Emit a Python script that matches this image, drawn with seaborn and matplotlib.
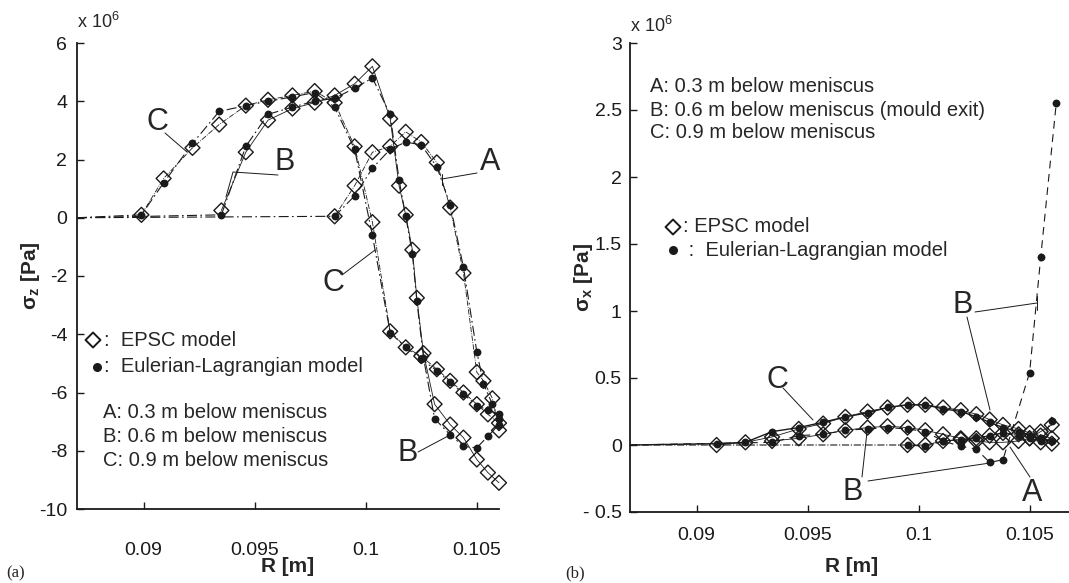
import numpy as np
import pandas as pd
import matplotlib
matplotlib.use("Agg")
import matplotlib.pyplot as plt
import seaborn as sns

# liquid pool: stress is zero from here up to the solidification front
R_START = 0.087

# (a) sigma_z, x 1e6 Pa
R_Z_C = [0.0899, 0.0909, 0.0922, 0.0934, 0.0946, 0.0956, 0.0967, 0.0977, 0.0986, 0.0995,
         0.1003, 0.1011, 0.1018, 0.1025, 0.1032, 0.1038, 0.1044, 0.1050, 0.1055, 0.1060]
SZ_C_EPSC = [0.1, 1.35, 2.4, 3.2, 3.85, 4.05, 4.2, 4.35, 3.95, 2.45,
             -0.15, -3.9, -4.45, -4.75, -5.2, -5.6, -6.0, -6.4, -6.75, -7.05]
SZ_C_EL = [0.1, 1.2, 2.55, 3.65, 3.85, 4.0, 4.15, 4.3, 3.8, 2.35,
           -0.6, -3.95, -4.45, -4.85, -5.25, -5.65, -6.05, -6.45, -6.6, -6.75]

R_Z_B = [0.0935, 0.0946, 0.0956, 0.0967, 0.0977, 0.0986, 0.0995, 0.1003, 0.1011, 0.1015,
         0.1018, 0.1021, 0.1023, 0.1026, 0.1031, 0.1038, 0.1044, 0.1050, 0.1055, 0.1060]
SZ_B_EPSC = [0.25, 2.25, 3.35, 3.75, 3.95, 4.2, 4.6, 5.2, 3.4, 1.1,
             0.1, -1.1, -2.75, -4.65, -6.4, -7.1, -7.55, -8.3, -8.75, -9.1]
SZ_B_EL = [0.1, 2.45, 3.55, 3.8, 4.0, 4.1, 4.45, 4.8, 3.55, 1.3,
           0.05, -1.25, -2.85, -4.8, -6.9, -7.45, -7.85, -7.9, -7.5, -7.1]

R_Z_A = [0.0986, 0.0995, 0.1003, 0.1011, 0.1018, 0.1025, 0.1032, 0.1038, 0.1044, 0.1050,
         0.1053, 0.1057, 0.1060]
SZ_A_EPSC = [0.05, 1.1, 2.25, 2.45, 2.95, 2.6, 1.9, 0.35, -1.9, -5.3, -5.6, -6.2, -7.3]
SZ_A_EL = [0.05, 0.75, 1.7, 2.35, 2.6, 2.5, 1.75, 0.45, -1.7, -4.6, -5.7, -6.4, -6.9]

# (b) sigma_x, x 1e6 Pa
R_X_C = [0.0909, 0.0922, 0.0934, 0.0946, 0.0957, 0.0967, 0.0977, 0.0986, 0.0995, 0.1003,
         0.1011, 0.1019, 0.1026, 0.1032, 0.1038, 0.1045, 0.1050, 0.1055, 0.1060]
SX_C_EPSC = [0.0, 0.02, 0.06, 0.12, 0.16, 0.21, 0.25, 0.28, 0.3, 0.3,
             0.28, 0.26, 0.23, 0.19, 0.15, 0.12, 0.09, 0.07, 0.05]
SX_C_EL = [0.01, 0.02, 0.1, 0.13, 0.17, 0.21, 0.24, 0.28, 0.3, 0.3,
           0.27, 0.25, 0.21, 0.17, 0.13, 0.1, 0.07, 0.05, 0.03]

R_X_B_EPSC = [0.0934, 0.0946, 0.0957, 0.0967, 0.0977, 0.0986, 0.0995, 0.1003, 0.1011,
              0.1019, 0.1026, 0.1032, 0.1038, 0.1045, 0.1050, 0.1055, 0.1060]
SX_B_EPSC = [0.03, 0.05, 0.08, 0.11, 0.13, 0.14, 0.13, 0.11, 0.08,
             0.05, 0.03, 0.02, 0.02, 0.03, 0.05, 0.1, 0.15]
R_X_B_EL = [0.0934, 0.0946, 0.0957, 0.0967, 0.0977, 0.0986, 0.0995, 0.1003, 0.1011,
            0.1019, 0.1026, 0.1032, 0.1038, 0.1050, 0.1055, 0.1062]
SX_B_EL = [0.02, 0.07, 0.08, 0.11, 0.12, 0.13, 0.12, 0.1, 0.03,
           -0.01, -0.03, -0.13, -0.11, 0.54, 1.4, 2.55]

R_X_A = [0.0995, 0.1003, 0.1011, 0.1019, 0.1026, 0.1032, 0.1038, 0.1045, 0.1050, 0.1055, 0.1060]
SX_A_EPSC = [0.0, 0.0, 0.03, 0.04, 0.05, 0.07, 0.09, 0.08, 0.05, 0.02, 0.01]
SX_A_EL = [0.0, -0.01, 0.03, 0.04, 0.05, 0.07, 0.09, 0.07, 0.05, 0.03, 0.18]

X_TICKS = [0.09, 0.095, 0.1, 0.105]
X_TICKLABELS = ["0.09", "0.095", "0.1", "0.105"]
YZ_TICKS = [-10, -8, -6, -4, -2, 0, 2, 4, 6]
YX_TICKS = [-0.5, 0, 0.5, 1, 1.5, 2, 2.5, 3]
YX_TICKLABELS = ["- 0.5", "0", "0.5", "1", "1.5", "2", "2.5", "3"]
DEPTHS = ["A: 0.3 m below meniscus", "B: 0.6 m below meniscus", "C: 0.9 m below meniscus"]
DEPTHS_B = ["A: 0.3 m below meniscus", "B: 0.6 m below meniscus (mould exit)",
            "C: 0.9 m below meniscus"]

sns.set_theme(style="ticks")
plt.rcParams["font.family"] = ["Liberation Sans", "DejaVu Sans"]
plt.rcParams["mathtext.fontset"] = "custom"
plt.rcParams["mathtext.rm"] = "Liberation Sans"
plt.rcParams["mathtext.it"] = "Liberation Sans:italic"
plt.rcParams["mathtext.bf"] = "Liberation Sans:bold"

fig = plt.figure(figsize=(10.69, 5.83), dpi=100)
ax1 = fig.add_axes([77 / 1069, 74 / 583, 422 / 1069, 466 / 583])
ax2 = fig.add_axes([630 / 1069, 71 / 583, 444 / 1069, 469 / 583])

DASHDOT = (0, (9, 3, 1.5, 3))


def draw_curve(ax, r_ep, ep, r_el, el, ls_el, ls_ep, lw_el=0.8):
    # EL line starts in the liquid (zero stress)
    sns.lineplot(x=[R_START] + r_el, y=[0] + el, ax=ax, color="k", lw=lw_el,
                 linestyle=ls_el, estimator=None, sort=False, clip_on=False)
    if ls_ep:
        sns.lineplot(x=r_ep, y=ep, ax=ax, color="k", lw=0.6, linestyle=ls_ep,
                     estimator=None, sort=False, clip_on=False)
    sns.scatterplot(x=r_ep, y=ep, ax=ax, marker="D", s=58, facecolor="none",
                    edgecolor="k", linewidth=1.0, clip_on=False, zorder=3)
    sns.scatterplot(x=r_el, y=el, ax=ax, marker="o", s=32, color="k",
                    edgecolor="k", linewidth=0, clip_on=False, zorder=4)


# panel (a)
draw_curve(ax1, R_Z_C, SZ_C_EPSC, R_Z_C, SZ_C_EL, DASHDOT, "-.")
draw_curve(ax1, R_Z_B, SZ_B_EPSC, R_Z_B, SZ_B_EL, DASHDOT, "-")
draw_curve(ax1, R_Z_A, SZ_A_EPSC, R_Z_A, SZ_A_EL, DASHDOT, "-.")

# panel (b)
draw_curve(ax2, R_X_C, SX_C_EPSC, R_X_C, SX_C_EL, "-", "-", lw_el=1.0)
draw_curve(ax2, R_X_B_EPSC, SX_B_EPSC, R_X_B_EL, SX_B_EL, (0, (7, 5)), "-")
draw_curve(ax2, R_X_A, SX_A_EPSC, R_X_A, SX_A_EL, "-.", "-")

for ax in (ax1, ax2):
    ax.set_xlim(0.087, 0.106 if ax is ax1 else 0.107)
    ax.set_xticks(X_TICKS)
    ax.set_xticklabels(X_TICKLABELS)
    ax.tick_params(direction="in", length=5, width=1, labelsize=14, colors="k")
    for s in ("left", "bottom"):
        ax.spines[s].set_linewidth(1.3)
        ax.spines[s].set_color("k")
    sns.despine(ax=ax)
    ax.set_xlabel("R [m]", fontsize=15, fontweight="bold")

ax1.set_ylim(-10, 6)
ax1.set_yticks(YZ_TICKS)
ax1.set_yticklabels([str(v) for v in YZ_TICKS])
ax1.tick_params(axis="x", pad=24)
ax1.tick_params(axis="y", pad=7)
ax1.set_ylabel(r"$\mathbf{\sigma_z}$ [Pa]", fontsize=15, fontweight="bold")
ax1.yaxis.set_label_coords(-0.083, 0.5)
ax1.xaxis.set_label_coords(0.5, -0.103)

ax2.set_ylim(-0.5, 3)
ax2.set_yticks(YX_TICKS)
ax2.set_yticklabels(YX_TICKLABELS)
ax2.tick_params(axis="x", pad=11)
ax2.tick_params(axis="y", pad=6)
ax2.set_ylabel(r"$\mathbf{\sigma_x}$ [Pa]", fontsize=15, fontweight="bold")
ax2.yaxis.set_label_coords(-0.078, 0.5)
ax2.xaxis.set_label_coords(0.5, -0.096)


def fx1(px):
    return (px - 77) / 422


def fy1(py):
    return (509 - py) / 466


def fx2(px):
    return (px - 630) / 444


def fy2(py):
    return (512 - py) / 469


# exponent labels
fig.text(77 / 1069, 1 - 22 / 583, r"x 10$^{6}$", fontsize=13, va="center", ha="left")
fig.text(630 / 1069, 1 - 26 / 583, r"x 10$^{6}$", fontsize=13, va="center", ha="left")

# curve labels and leader lines, panel (a)
t1 = ax1.transAxes
for lab, px, py in [("C", 157, 122), ("B", 285, 162), ("A", 490, 162),
                    ("C", 333, 283), ("B", 408, 453)]:
    ax1.text(fx1(px), fy1(py), lab, transform=t1, fontsize=22, ha="center", va="center")
for pts in [[(165, 133), (187, 152)], [(278, 175), (233, 172), (226, 197)],
            [(477, 173), (442, 179)], [(442, 174), (442, 185)],
            [(342, 275), (375, 250)], [(418, 452), (450, 435)]]:
    ax1.plot([fx1(p[0]) for p in pts], [fy1(p[1]) for p in pts], transform=t1,
             color="k", lw=0.7, clip_on=False)

# legend, panel (a)
ax1.scatter([fx1(93)], [fy1(340)], marker="D", s=58, facecolor="none", edgecolor="k",
            linewidth=1.4, transform=t1, clip_on=False)
ax1.scatter([fx1(97)], [fy1(367)], marker="o", s=30, color="k", transform=t1, clip_on=False)
ax1.text(fx1(104), fy1(340), ":  EPSC model", transform=t1, fontsize=14.5, va="center")
ax1.text(fx1(104), fy1(367), ":  Eulerian-Lagrangian model", transform=t1, fontsize=14.5,
         va="center")
for i, txt in enumerate(DEPTHS):
    ax1.text(fx1(103), fy1(412 + 24 * i), txt, transform=t1, fontsize=14.5, va="center")

# panel (b) labels
t2 = ax2.transAxes
for i, txt in enumerate(DEPTHS_B):
    ax2.text(fx2(650), fy2(87 + 23 * i), txt, transform=t2, fontsize=14.5, va="center")
ax2.scatter([fx2(673)], [fy2(227)], marker="D", s=58, facecolor="none", edgecolor="k",
            linewidth=1.4, transform=t2, clip_on=False)
ax2.scatter([fx2(673)], [fy2(250)], marker="o", s=30, color="k", transform=t2, clip_on=False)
ax2.text(fx2(683), fy2(227), ": EPSC model", transform=t2, fontsize=14.5, va="center")
ax2.text(fx2(683), fy2(250), " :  Eulerian-Lagrangian model", transform=t2, fontsize=14.5,
         va="center")
for lab, px, py in [("C", 777, 380), ("B", 853, 492), ("B", 963, 305), ("A", 1032, 493)]:
    ax2.text(fx2(px), fy2(py), lab, transform=t2, fontsize=22, ha="center", va="center")
for pts in [[(783, 388), (813, 420)], [(862, 477), (867, 432)], [(868, 481), (990, 463)],
            [(975, 312), (1037, 303)], [(1037, 296), (1037, 310)], [(967, 317), (990, 410)],
            [(1030, 477), (1010, 447)]]:
    ax2.plot([fx2(p[0]) for p in pts], [fy2(p[1]) for p in pts], transform=t2,
             color="k", lw=0.7, clip_on=False)

fig.text(6 / 1069, 1 - 573 / 583, "(a)", fontsize=12, family="Liberation Serif", va="center")
fig.text(565 / 1069, 1 - 573 / 583, "(b)", fontsize=12, family="Liberation Serif", va="center")

fig.savefig("out.png", dpi=100)
